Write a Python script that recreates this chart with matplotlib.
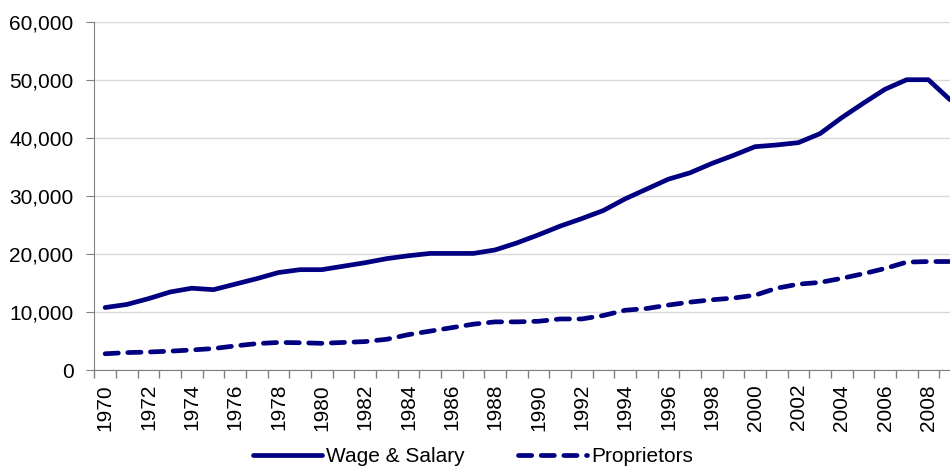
import matplotlib
matplotlib.use("Agg")
import matplotlib.pyplot as plt
from matplotlib.ticker import FuncFormatter, MultipleLocator

plt.rcParams['font.family'] = ['Liberation Sans', 'DejaVu Sans']

years = list(range(1970, 2010))
wage_salary = [10770, 11300, 12300, 13450, 14100, 13850, 14800, 15750, 16800, 17300,
               17300, 17900, 18500, 19200, 19700, 20100, 20100, 20100, 20700, 21900,
               23300, 24800, 26100, 27500, 29500, 31200, 32900, 34000, 35600, 37000,
               38500, 38800, 39200, 40750, 43500, 46000, 48400, 50050, 50050, 46600]
proprietors = [2800, 3000, 3100, 3250, 3450, 3700, 4150, 4550, 4750, 4700,
               4600, 4750, 4900, 5300, 6100, 6700, 7300, 7900, 8300, 8300,
               8400, 8800, 8800, 9400, 10300, 10600, 11200, 11700, 12100, 12400,
               12900, 14100, 14800, 15100, 15800, 16600, 17500, 18600, 18700, 18700]

navy = '#000080'

fig = plt.figure(figsize=(9.5, 4.72), dpi=100)
ax = fig.add_axes([94.3 / 950, 1 - 370 / 472, 1 - 94.3 / 950, 348 / 472])

ax.plot(years, wage_salary, color=navy, lw=3.4, solid_capstyle='round',
        label='Wage & Salary', clip_on=False)
ax.plot(years, proprietors, color=navy, lw=3.4, dashes=(2.8, 2.0),
        dash_capstyle='round', label='Proprietors')

ax.set_ylim(0, 60000)
ax.set_xlim(1969.5, 2009.0)
ax.yaxis.set_major_locator(MultipleLocator(10000))
ax.yaxis.set_major_formatter(FuncFormatter(lambda v, p: f'{int(v):,}'))
ax.grid(axis='y', color='#d9d9d9', lw=1)
ax.set_axisbelow(True)

ax.set_xticks(years[::2])
ax.set_xticklabels([str(y) for y in years[::2]], rotation=90)
ax.set_xticks([y - 0.5 for y in years], minor=True)
ax.tick_params(axis='x', which='major', length=0, pad=10, labelsize=15)
ax.tick_params(axis='x', which='minor', length=6, color='#808080', width=1)
ax.tick_params(axis='y', length=6, color='#808080', labelsize=15, pad=9)

for side in ['top', 'right']:
    ax.spines[side].set_visible(False)
for side in ['left', 'bottom']:
    ax.spines[side].set_color('#808080')

fig.legend(loc='center', bbox_to_anchor=(473 / 950, 1 - 457 / 472), ncol=2,
           frameon=False, fontsize=15, handlelength=3.3, columnspacing=2.6,
           handletextpad=0.2)

fig.savefig('out.png', dpi=100)
